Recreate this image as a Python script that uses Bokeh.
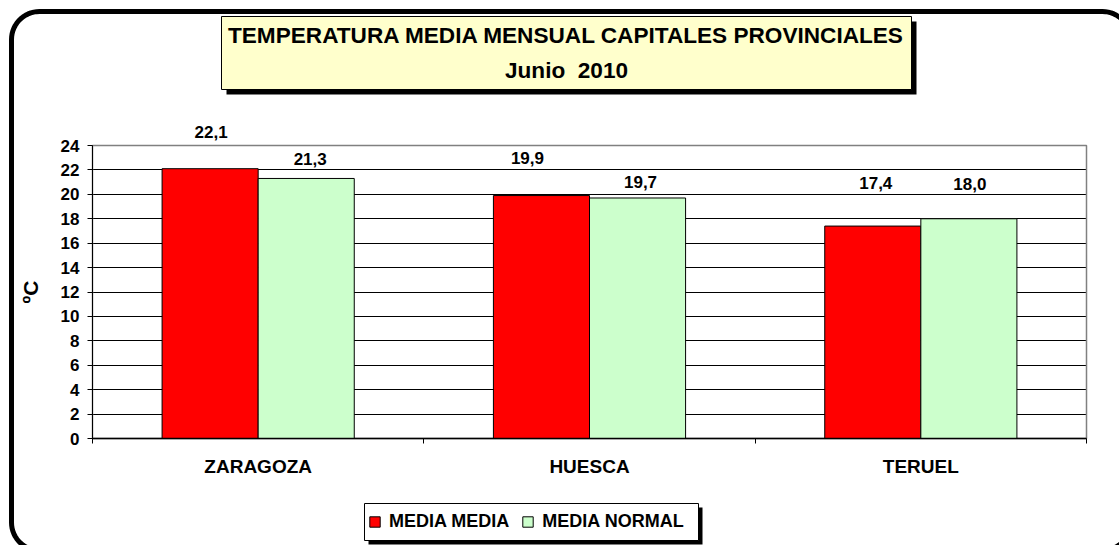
import numpy as np
from bokeh.plotting import figure
from bokeh.models import (ColumnDataSource, Range1d, FixedTicker, LabelSet, Label,
                          BoxAnnotation, PolyAnnotation, Legend, LegendItem)
from bokeh.transform import dodge
from bokeh.embed import file_html
from bokeh.resources import INLINE
from bokeh.core.properties import value

# ---- data ----
categories = ["ZARAGOZA", "HUESCA", "TERUEL"]
media_media = [22.1, 19.9, 17.4]
media_normal = [21.3, 19.7, 18.0]
y_ticks = [0, 2, 4, 6, 8, 10, 12, 14, 16, 18, 20, 22, 24]
series_names = ["MEDIA MEDIA", "MEDIA NORMAL"]
title_lines = ["TEMPERATURA MEDIA MENSUAL CAPITALES PROVINCIALES", "Junio  2010"]
y_label = "ºC"

# ---- styles / layout (pixels) ----
FONT = "Liberation Sans"
RED = "#FF0000"
GREEN = "#CCFFCC"
BAR_W = 0.29
W, H = 1119, 545
PLOT_L, PLOT_R, PLOT_T, PLOT_B = 92, 1086, 145, 438
# label lift above bar tops (px) and small horizontal nudges, as in the original
lift_red = [37, 38, 43]
lift_green = [19, 16, 35]
nudge_red = [1, -14, 3]
nudge_green = [4, 3, 1]

NCAT = len(categories)
YMAX = y_ticks[-1]
KX = (PLOT_R - PLOT_L) / NCAT
KY = (PLOT_B - PLOT_T) / YMAX
px2x = lambda px: (px - PLOT_L) / KX
py2y = lambda py: (PLOT_B - py) / KY

p = figure(width=W, height=H, output_backend="svg", toolbar_location=None,
           x_range=Range1d(px2x(0), px2x(W)), y_range=Range1d(py2y(H), py2y(0)),
           min_border=0, min_border_left=0, min_border_right=0,
           min_border_top=0, min_border_bottom=0)
p.title.visible = False
p.background_fill_color = "white"
p.border_fill_color = "white"
p.outline_line_color = None

pos = [i + 0.5 for i in range(NCAT)]
src = ColumnDataSource(dict(x=pos, red=media_media, green=media_normal))

# plot-area frame (gray top/right)
p.add_layout(BoxAnnotation(left=0, right=NCAT, bottom=0, top=YMAX, fill_alpha=0,
                           line_color="#808080", line_alpha=1, line_width=1.5,
                           level="underlay"))

r1 = p.vbar(x=dodge("x", -BAR_W / 2, range=p.x_range), top="red", width=BAR_W,
            source=src, fill_color=RED, line_color="black", line_width=1)
r2 = p.vbar(x=dodge("x", BAR_W / 2, range=p.x_range), top="green", width=BAR_W,
            source=src, fill_color=GREEN, line_color="black", line_width=1)

# grid
p.xgrid.visible = False
p.ygrid.ticker = FixedTicker(ticks=y_ticks[:-1])
p.ygrid.bounds = (0, YMAX)
p.ygrid.cross_bounds = (0, NCAT)
p.ygrid.grid_line_color = "#000000"
p.ygrid.grid_line_width = 1
p.ygrid.level = "underlay"

# y axis
ya = p.yaxis[0]
ya.fixed_location = 0
ya.bounds = (0, YMAX)
ya.ticker = FixedTicker(ticks=y_ticks)
ya.axis_label = y_label
ya.axis_label_text_font = FONT
ya.axis_label_text_font_style = "bold"
ya.axis_label_text_font_size = "21px"
ya.axis_label_text_color = "black"
ya.axis_label_standoff = 16
ya.major_label_text_font = FONT
ya.major_label_text_font_style = "bold"
ya.major_label_text_font_size = "17px"
ya.major_label_text_color = "black"
ya.major_label_standoff = 8
ya.major_tick_out = 5
ya.major_tick_in = 0
ya.minor_tick_out = 0
ya.minor_tick_in = 0
ya.axis_line_color = "black"
ya.major_tick_line_color = "black"

# x axis
xa = p.xaxis[0]
xa.fixed_location = 0
xa.bounds = (0, NCAT)
xa.ticker = FixedTicker(ticks=pos, minor_ticks=list(range(NCAT + 1)))
xa.major_label_overrides = {x: c for x, c in zip(pos, categories)}
xa.major_label_text_font = FONT
xa.major_label_text_font_style = "bold"
xa.major_label_text_font_size = "19px"
xa.major_label_text_color = "black"
xa.major_label_standoff = 12
xa.major_tick_out = 0
xa.major_tick_in = 0
xa.minor_tick_out = 5
xa.minor_tick_in = 0
xa.minor_tick_line_color = "black"
xa.axis_line_color = "black"
xa.axis_line_width = 1.5

# value labels
fmt = lambda v: f"{v:.1f}".replace(".", ",")
lab_src = ColumnDataSource(dict(
    x=[x - BAR_W / 2 for x in pos] + [x + BAR_W / 2 for x in pos],
    y=media_media + media_normal,
    t=[fmt(v) for v in media_media] + [fmt(v) for v in media_normal],
    dy=lift_red + lift_green,
    dx=nudge_red + nudge_green,
))
p.add_layout(LabelSet(x="x", y="y", text="t", source=lab_src, x_offset="dx", y_offset="dy",
                      text_align="center", text_baseline="middle",
                      text_font=value(FONT), text_font_style="bold",
                      text_font_size="17px", text_color="black"))


def pbox(l, r, t, b, **kw):
    return BoxAnnotation(left=px2x(l), right=px2x(r), top=py2y(t), bottom=py2y(b),
                         line_alpha=kw.pop("line_alpha", 1), **kw)


def rounded_outline(l, t, r, b, rad, n=16):
    """Closed path of a rounded rectangle (pixels) converted to data units."""
    xs, ys = [], []
    corners = [(l + rad, t + rad, 180, 270), (r - rad, t + rad, 270, 360),
               (r - rad, b - rad, 0, 90), (l + rad, b - rad, 90, 180)]
    for cx, cy, a0, a1 in corners:
        ang = np.radians(np.linspace(a0, a1, n))
        xs += list(cx + rad * np.cos(ang))
        ys += list(cy + rad * np.sin(ang))
    return [px2x(v) for v in xs], [py2y(v) for v in ys]


# outer rounded frame (its right and bottom sides fall just past the edges)
ox, oy = rounded_outline(11, 11, 1130, 550, 28)
p.add_layout(PolyAnnotation(xs=ox, ys=oy, fill_alpha=0, line_color="black",
                            line_alpha=1, line_width=5, level="overlay"))

# title box with shadow
p.add_layout(pbox(226, 916, 21, 94, fill_color="black", fill_alpha=1, line_alpha=0))
p.add_layout(pbox(221, 911, 16, 89, fill_color="#FFFFCC", fill_alpha=1,
                  line_color="black", line_width=1))
for txt, yy in zip(title_lines, [35, 70]):
    p.add_layout(Label(x=px2x(566), y=py2y(yy), text=txt.replace("  ", "\u00a0 "),
                       text_align="center", text_baseline="middle",
                       text_font=FONT, text_font_style="bold",
                       text_font_size="22.6px", text_color="black"))

# legend box with shadow
p.add_layout(pbox(368, 702, 507, 544, fill_color="black", fill_alpha=1, line_alpha=0))
p.add_layout(pbox(364, 698, 503, 540, fill_color="white", fill_alpha=1,
                  line_color="black", line_width=1))
legend = Legend(items=[LegendItem(label=series_names[0], renderers=[r1]),
                       LegendItem(label=series_names[1], renderers=[r2])],
                orientation="horizontal", location=(368, 13),
                glyph_width=13, glyph_height=13, label_standoff=8, spacing=12,
                padding=0, margin=0, background_fill_alpha=0, border_line_alpha=0,
                label_text_font=FONT, label_text_font_style="bold",
                label_text_font_size="18px", label_text_color="black")
p.add_layout(legend, "center")

open("out.html", "w").write(file_html(p, INLINE))
